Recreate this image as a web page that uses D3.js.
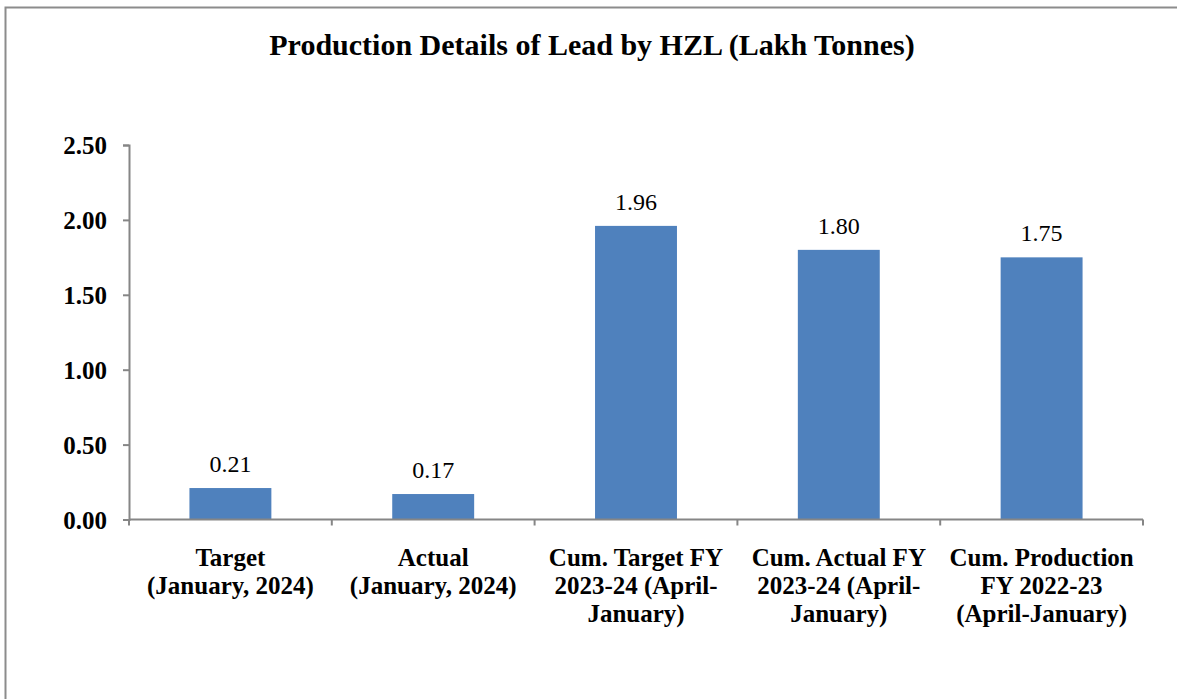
<!DOCTYPE html>
<html>
<head>
<meta charset="utf-8">
<script src="https://cdn.jsdelivr.net/npm/d3@7"></script>
<style>
  body { margin: 0; background: #fff; }
  text { font-family: "Liberation Serif", "Times New Roman", serif; }
</style>
</head>
<body>
<div id="chart"></div>
<script>
// datos
var categories = [
	["Target", "(January, 2024)"],
	["Actual", "(January, 2024)"],
	["Cum. Target FY", "2023-24 (April-", "January)"],
	["Cum. Actual FY", "2023-24 (April-", "January)"],
	["Cum. Production", "FY 2022-23", "(April-January)"]
];
var values = [0.21, 0.17, 1.96, 1.80, 1.75];
var yTicks = [0, 0.5, 1, 1.5, 2, 2.5];
var title = "Production Details of Lead by HZL (Lakh Tonnes)";

var svg_w = 1177, svg_h = 699;
var plot_left = 129, plot_right = 1143, plot_top = 145, plot_bottom = 519.5;
var bar_color = "#4F81BD";
var axis_color = "#868686";

var svg = d3.select("#chart").append("svg")
	.attr("width", svg_w)
	.attr("height", svg_h);

// borde
svg.append("rect")
	.attr("x", 5.5).attr("y", 7.5)
	.attr("width", 1200).attr("height", 720)
	.attr("fill", "#fff")
	.attr("stroke", "#8c8c8c")
	.attr("stroke-width", 2);

// titulo
svg.append("text")
	.attr("x", 592).attr("y", 55)
	.attr("text-anchor", "middle")
	.attr("font-size", 30)
	.attr("font-weight", "bold")
	.text(title);

// escalas
var x = d3.scaleBand()
	.domain(d3.range(values.length))
	.range([plot_left, plot_right])
	.paddingInner(0.596)
	.paddingOuter(0.298);

var xOuter = d3.scaleBand()
	.domain(d3.range(values.length))
	.range([plot_left, plot_right]);

var y = d3.scaleLinear()
	.domain([0, 2.5])
	.range([plot_bottom, plot_top]);

// barras
svg.selectAll(".bar")
	.data(values)
	.enter()
	.append("rect")
	.attr("class", "bar")
	.attr("x", function(d, i) { return x(i); })
	.attr("y", function(d) { return y(d); })
	.attr("width", x.bandwidth())
	.attr("height", function(d) { return y(0) - y(d); })
	.attr("fill", bar_color);

// etiquetas de valores
svg.selectAll(".val")
	.data(values)
	.enter()
	.append("text")
	.attr("class", "val")
	.attr("x", function(d, i) { return x(i) + x.bandwidth() / 2; })
	.attr("y", function(d) { return y(d) - 16; })
	.attr("text-anchor", "middle")
	.attr("font-size", 24)
	.text(function(d) { return d.toFixed(2); });

// eje y
var yAxis = d3.axisLeft(y)
	.tickValues(yTicks)
	.tickSize(6)
	.tickPadding(16)
	.tickFormat(d3.format(".2f"));

var gy = svg.append("g")
	.attr("transform", "translate(" + plot_left + ",0)")
	.call(yAxis);
gy.select(".domain").attr("stroke", axis_color).attr("stroke-width", 2);
gy.selectAll(".tick line").attr("stroke", axis_color).attr("stroke-width", 2);
gy.selectAll(".tick text")
	.attr("font-family", "Liberation Serif, serif")
	.attr("font-size", 25)
	.attr("font-weight", "bold")
	.attr("fill", "#000")
	.attr("dy", "0.35em");

// eje x
var xTickPos = d3.range(values.length + 1).map(function(i) {
	return i < values.length ? xOuter(i) : plot_right;
});
var gx = svg.append("g");
gx.append("line")
	.attr("x1", plot_left).attr("x2", plot_right)
	.attr("y1", plot_bottom).attr("y2", plot_bottom)
	.attr("stroke", axis_color).attr("stroke-width", 2);
gx.selectAll(".xtick")
	.data(xTickPos)
	.enter()
	.append("line")
	.attr("x1", function(d) { return d; })
	.attr("x2", function(d) { return d; })
	.attr("y1", plot_bottom).attr("y2", plot_bottom + 6)
	.attr("stroke", axis_color).attr("stroke-width", 2);

// etiquetas de categorias
var cat = svg.selectAll(".cat")
	.data(categories)
	.enter()
	.append("text")
	.attr("class", "cat")
	.attr("text-anchor", "middle")
	.attr("font-size", 25)
	.attr("font-weight", "bold");

cat.selectAll("tspan")
	.data(function(d, i) { return d.map(function(s) { return [s, i]; }); })
	.enter()
	.append("tspan")
	.attr("x", function(d) { return xOuter(d[1]) + xOuter.bandwidth() / 2; })
	.attr("y", function(d, j) { return 566 + j * 28; })
	.text(function(d) { return d[0]; });
</script>
</body>
</html>
